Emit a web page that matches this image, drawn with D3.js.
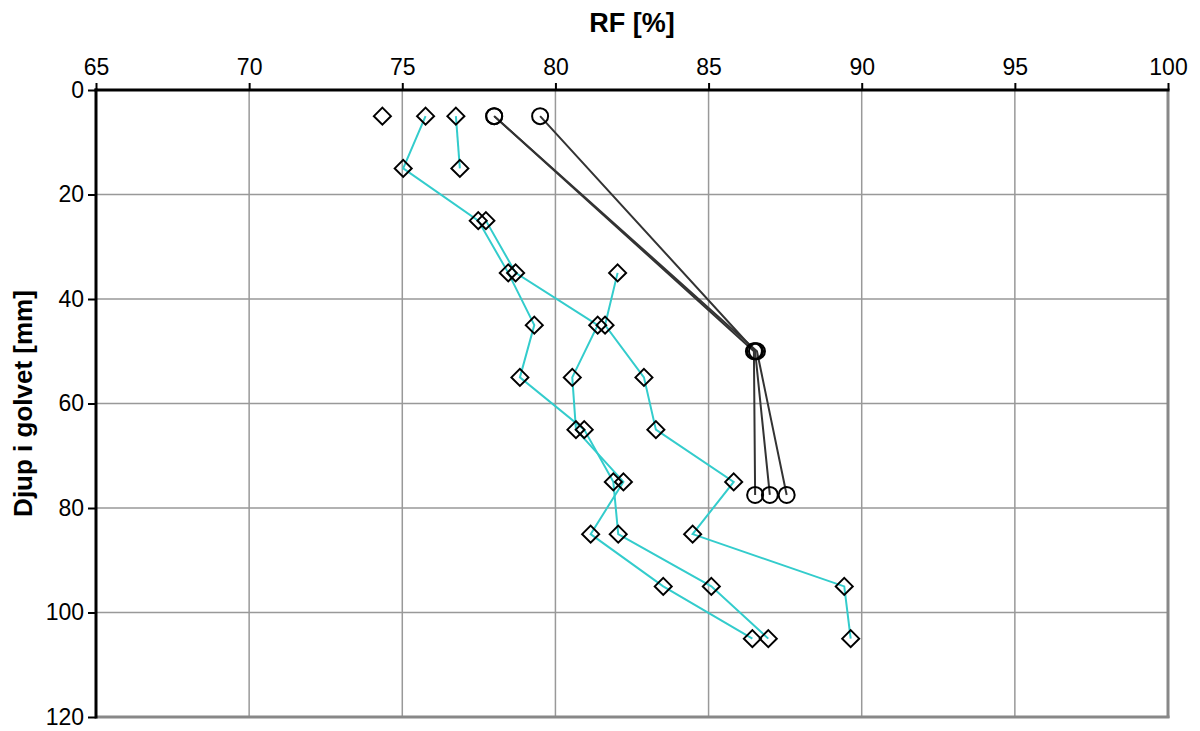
<!DOCTYPE html>
<html>
<head>
<meta charset="utf-8">
<script src="https://cdn.jsdelivr.net/npm/d3@7"></script>
<style>
  html, body { margin: 0; padding: 0; background: #fff; }
  svg { display: block; font-family: "Liberation Sans", Arial, sans-serif; }
</style>
</head>
<body>
<svg id="chart" width="1200" height="731"></svg>
<script>
// Axis ticks
const rfTicks = [65, 70, 75, 80, 85, 90, 95, 100];
const depthTicks = [0, 20, 40, 60, 80, 100, 120];

// Measured RF profiles (diamonds, cyan lines): depth [mm] and RF [%]
const profileA_depth = [5];
const profileA_rf    = [74.35];
const profileB_depth = [5, 15];
const profileB_rf    = [76.75, 76.88];
const profileC_depth = [5, 15, 25, 35, 45, 55, 65, 75, 85, 95, 105];
const profileC_rf    = [75.76, 75.03, 77.48, 78.46, 79.31, 78.84, 80.94, 81.89, 82.05, 85.09, 86.95];
const profileD_depth = [25, 35, 45, 55, 65, 75, 85, 95, 105];
const profileD_rf    = [77.73, 78.70, 81.38, 80.55, 80.67, 82.22, 81.15, 83.52, 86.43];
const profileE_depth = [35, 45, 55, 65, 75, 85, 95, 105];
const profileE_rf    = [82.03, 81.62, 82.89, 83.28, 85.82, 84.48, 89.43, 89.64];

// Computed profiles (circles, dark lines)
const calcA_depth = [5, 50, 77.5];
const calcA_rf    = [78.0, 86.48, 86.52];
const calcB_depth = [5, 50, 77.5];
const calcB_rf    = [79.5, 86.52, 87.0];
const calcC_depth = [5, 50, 77.5];
const calcC_rf    = [78.0, 86.58, 87.55];

const measured = [
  [profileA_depth, profileA_rf],
  [profileB_depth, profileB_rf],
  [profileC_depth, profileC_rf],
  [profileD_depth, profileD_rf],
  [profileE_depth, profileE_rf]
].map(([d, r]) => d.map((dep, i) => ({ depth: dep, rf: r[i] })));

const computed = [
  [calcA_depth, calcA_rf],
  [calcB_depth, calcB_rf],
  [calcC_depth, calcC_rf]
].map(([d, r]) => d.map((dep, i) => ({ depth: dep, rf: r[i] })));

const svg = d3.select("#chart");
const plotLeft = 96, plotRight = 1168, plotTop = 90, plotBottom = 717;

const x = d3.scaleLinear().domain([65, 100]).range([plotLeft, plotRight]);
const y = d3.scaleLinear().domain([0, 120]).range([plotTop, plotBottom]);

// Grid
const grid = svg.append("g").attr("stroke", "#999").attr("stroke-width", 1.5);
grid.selectAll("line.vx").data(rfTicks.slice(1, -1)).join("line")
  .attr("x1", d => x(d)).attr("x2", d => x(d))
  .attr("y1", plotTop).attr("y2", plotBottom);
grid.selectAll("line.hy").data(depthTicks.slice(1, -1)).join("line")
  .attr("x1", plotLeft).attr("x2", plotRight)
  .attr("y1", d => y(d)).attr("y2", d => y(d));

// Right and bottom frame (grey)
svg.append("line").attr("x1", plotRight).attr("x2", plotRight).attr("y1", plotTop).attr("y2", plotBottom + 1)
  .attr("stroke", "#888").attr("stroke-width", 3);
svg.append("line").attr("x1", plotLeft).attr("x2", plotRight + 1.5).attr("y1", plotBottom).attr("y2", plotBottom)
  .attr("stroke", "#888").attr("stroke-width", 3);

// Top axis
const xAxis = d3.axisTop(x).tickValues(rfTicks).tickSize(7).tickPadding(8).tickSizeOuter(0);
const gx = svg.append("g").attr("transform", `translate(0,${plotTop})`).call(xAxis);
gx.select(".domain").attr("stroke", "#000").attr("stroke-width", 3)
  .attr("d", `M${plotLeft - 1.5},0H${plotRight + 1.5}`);
gx.selectAll(".tick line").attr("stroke", "#000").attr("stroke-width", 2);
gx.selectAll(".tick text").attr("font-size", 23).attr("fill", "#000")
  .attr("font-family", "Liberation Sans, Arial, sans-serif");

// Left axis
const yAxis = d3.axisLeft(y).tickValues(depthTicks).tickSize(8).tickPadding(4).tickSizeOuter(0);
const gy = svg.append("g").attr("transform", `translate(${plotLeft},0)`).call(yAxis);
gy.select(".domain").attr("stroke", "#000").attr("stroke-width", 3)
  .attr("d", `M0,${plotTop - 1.5}V${plotBottom + 1.5}`);
gy.selectAll(".tick line").attr("stroke", "#000").attr("stroke-width", 2);
gy.selectAll(".tick text").attr("font-size", 23).attr("fill", "#000")
  .attr("font-family", "Liberation Sans, Arial, sans-serif");

// Axis titles
svg.append("text").attr("x", (plotLeft + plotRight) / 2).attr("y", 32)
  .attr("text-anchor", "middle").attr("font-weight", "bold").attr("font-size", 27)
  .text("RF [%]");
svg.append("text")
  .attr("transform", `translate(32,${(plotTop + plotBottom) / 2}) rotate(-90)`)
  .attr("text-anchor", "middle").attr("font-weight", "bold").attr("font-size", 26)
  .text("Djup i golvet [mm]");

const line = d3.line().x(d => x(d.rf)).y(d => y(d.depth));

// Computed profiles
svg.append("g").selectAll("path").data(computed).join("path")
  .attr("d", line).attr("fill", "none").attr("stroke", "#333").attr("stroke-width", 2);

// Measured profiles
svg.append("g").selectAll("path").data(measured).join("path")
  .attr("d", line).attr("fill", "none").attr("stroke", "#33cccc").attr("stroke-width", 2);

// Circle markers
svg.append("g").selectAll("circle").data(computed.flat()).join("circle")
  .attr("cx", d => x(d.rf)).attr("cy", d => y(d.depth)).attr("r", 8)
  .attr("fill", "none").attr("stroke", "#000").attr("stroke-width", 2);

// Diamond markers
const dSize = 8.5;
svg.append("g").selectAll("path").data(measured.flat()).join("path")
  .attr("transform", d => `translate(${x(d.rf)},${y(d.depth)})`)
  .attr("d", `M0,${-dSize}L${dSize},0L0,${dSize}L${-dSize},0Z`)
  .attr("fill", "none").attr("stroke", "#000").attr("stroke-width", 2);
</script>
</body>
</html>
